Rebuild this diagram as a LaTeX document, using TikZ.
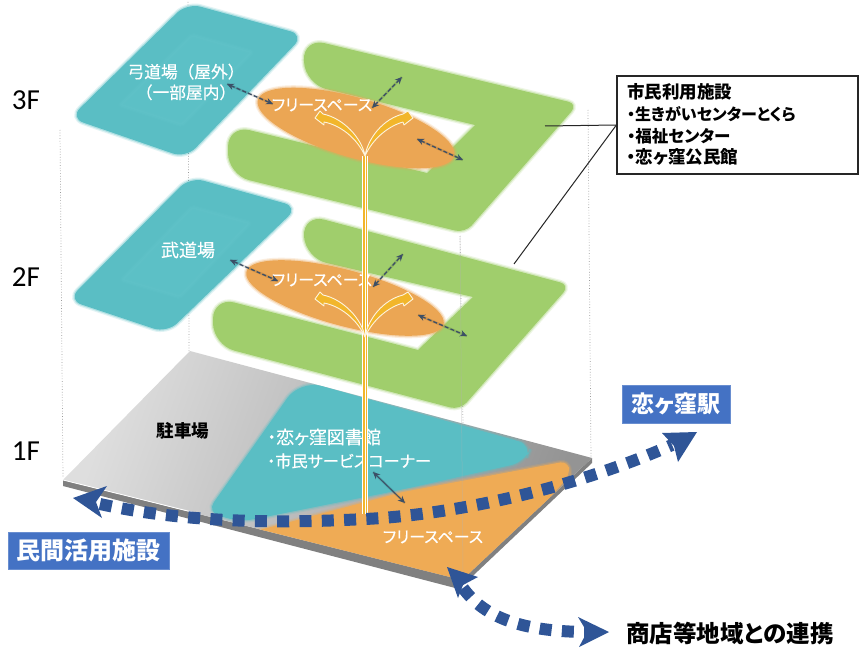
\documentclass[tikz,border=0pt]{standalone}
\usepackage{fontspec}
\usetikzlibrary{arrows.meta}
\newfontfamily\jpf[RawFeature=+palt,FakeBold=0.35]{Noto Sans CJK JP}
\newfontfamily\jpw[FakeBold=0.35]{Noto Sans CJK JP}
\newfontfamily\jpb[RawFeature=+palt]{Noto Sans CJK JP}
\newfontfamily\flf{Carlito}
\definecolor{cteal}{HTML}{5ABEC4}
\definecolor{cteali}{HTML}{62C4CA}
\definecolor{cgreen}{HTML}{A0CE6C}
\definecolor{corange}{HTML}{EBA654}
\definecolor{corangeb}{HTML}{EFAB55}
\definecolor{cblue}{HTML}{2F5597}
\definecolor{cbox}{HTML}{4472C4}
\definecolor{cdash}{HTML}{3C4F66}
\definecolor{cyel}{HTML}{F2B62B}
\tikzset{
  x=1pt,y=-1pt,
  soft/.style={fill=#1,preaction={draw=#1,line width=5pt,opacity=.18},preaction={draw=#1,line width=2.5pt,opacity=.35}},
  guide/.style={draw=black!40,line width=.7pt,dotted},
  faint/.style={draw=black!30,line width=.5pt,opacity=.45},
  dbl/.style={draw=cdash,line width=1.3pt,dash pattern=on 4pt off 2.2pt,{Stealth[length=7pt,width=6.5pt]}-{Stealth[length=7pt,width=6.5pt]},preaction={draw=black,opacity=.12,line width=2.5pt,solid,-}},
  dots/.style={draw=cblue,line width=12pt,dash pattern=on 12pt off 10.3pt,-},
  bighead/.style={fill=cblue,draw=none},
  wlab/.style={text=white,font=\jpf\fontsize{#1}{#1}\selectfont,inner sep=0pt},
  wlabn/.style={text=white,font=\jpw\fontsize{#1}{#1}\selectfont,inner sep=0pt},
  blab/.style={text=black,font=\jpb\bfseries\fontsize{#1}{#1}\selectfont,inner sep=0pt},
  flab/.style={text=black,font=\flf\fontsize{29}{29}\selectfont,inner sep=0pt},
  bluebox/.style={fill=cbox,draw=cbox!80!white,line width=.5pt,text=white,font=\jpb\bfseries\fontsize{#1}{#1}\selectfont,inner sep=0pt,anchor=center},
  leader/.style={draw=black!85,line width=1pt},
  branch/.style={fill=cyel,draw=white!85!cyel,line width=.9pt,line join=round},
}
\newcommand{\tiltell}[6]{\path[soft=#6] plot[domain=0:360,samples=90,smooth cycle] ({#1+#3*cos(\x)*cos(#5)-#4*sin(\x)*sin(#5)},{#2+#3*cos(\x)*sin(#5)+#4*sin(\x)*cos(#5)});}
\newcommand{\brancharrows}[1]{%
 \begin{scope}[shift={(#1)}]
 \path[branch] (0,0) .. controls (-3,-18) and (-22,-38) .. (-42,-42) -- (-45,-45) -- (-50,-38) -- (-41,-31) -- (-41,-34) .. controls (-25,-31) and (-8,-18) .. (0,0) -- cycle;
 \path[branch] (0,0) .. controls (3,-18) and (18,-37) .. (38,-42) -- (43,-45) -- (48,-38) -- (39,-31) -- (38,-34) .. controls (24,-30) and (8,-18) .. (0,0) -- cycle;
 \end{scope}}
\begin{document}
\begin{tikzpicture}
\useasboundingbox (0,0) rectangle (865,650);
\fill[white] (0,0) rectangle (865,650);
% guides
\draw[guide] (60,130) -- (63,478);
\draw[guide] (188,2) -- (189,352);
\draw[guide] (588,110) -- (591,458);
\draw[guide] (460,236) -- (463,424);
% 3F
\path[soft=cgreen] [rounded corners=22pt] (303,38) [rounded corners=10pt] -- (578,104) -- (465,233) [rounded corners=22pt] -- (228,175) -- (228,125) [sharp corners] -- (427,173) -- (475,125) [rounded corners=22pt] -- (305,84) -- cycle;
\path[soft=cteal,rounded corners=14pt] (187,3) -- (304,35) -- (186,158) -- (70,118) -- cycle;
\path[soft=cteali,opacity=.35,rounded corners=2pt] (192,35) -- (252,52) -- (182,125) -- (120,105) -- cycle;
\tiltell{356}{128}{102}{30}{16}{corange}
% 2F
\path[soft=cgreen] [rounded corners=22pt] (303,214) [rounded corners=10pt] -- (570,285) -- (460,410) [rounded corners=22pt] -- (213,345) -- (213,297) [sharp corners] -- (418,350) -- (473,297) [rounded corners=22pt] -- (305,258) -- cycle;
\path[soft=cteal,rounded corners=14pt] (190,177) -- (298,207) -- (167,333) -- (68,300) -- cycle;
\path[soft=cteali,opacity=.35,rounded corners=2pt] (192,207) -- (250,223) -- (180,297) -- (122,280) -- cycle;
\tiltell{345}{298}{102}{28}{15}{corange}
% floor
\fill[black!50] (63,480) -- (462,580) -- (592,458) -- (592,463) -- (459,589) -- (63,486) -- cycle;
\shade[left color=black!13,right color=black!42,shading angle=70] (190,351) -- (592,458) -- (462,580) -- (63,480) -- cycle;
\draw[white,line width=.8pt] (63,480) -- (200,514);
\begin{scope}
\clip (190,351) -- (592,458) -- (462,580) -- (63,480) -- cycle;
\path[soft=cteal] [rounded corners=22pt] (300,380) [rounded corners=14pt] -- (532,445) -- (525,462) -- (400,490) -- (240,522) [rounded corners=12pt] -- (207,512) [rounded corners=22pt] -- cycle;
\path[soft=corangeb] (252,532) -- (403,492) [rounded corners=8pt] -- (568,461) -- (570,475) [sharp corners] -- (480,575) -- (440,590) -- cycle;
\end{scope}
\draw[faint] (460,236) -- (463,575);
% callout
\node[draw=black!85,line width=1.2pt,fill=white,minimum width=241pt,minimum height=98pt,inner sep=0pt] (callout) at (737.5,125) {};
\coordinate (g3) at (545,126);
\coordinate (g2) at (514,264);
\draw[leader] (callout.west) -- (g3);
\draw[leader] (callout.west) -- (g2);
\node[blab=17.5,anchor=west] (c1) at (627,92) {市民利用施設};
\node[blab=16,anchor=west] (c2) at (627,114) {・生きがいセンターとくら};
\node[blab=16.5,anchor=west] (c3) at (627,136) {・福祉センター};
\node[blab=17.5,anchor=west] (c4) at (627,157) {・恋ヶ窪公民館};
% labels
\node[flab] (f3) at (26,100) {3F};
\node[flab] (f2) at (26,277) {2F};
\node[flab] (f1) at (26,451) {1F};
\node[wlabn=16.7,align=center] (kyudo) at (186,82) {弓道場（屋外）\\[4pt]（一部屋内）};
\node[wlab=18] (budo) at (188,250) {武道場};
\node[blab=17.5] (park) at (183,431) {駐車場};
\node[wlab=16] (fs3) at (322,105) {フリースペース};
\node[wlab=16] (fs2) at (322,280) {フリースペース};
\node[wlab=16] (fs1) at (433,537) {フリースペース};
\node[wlab=18,anchor=west] (lib) at (267,437) {・恋ヶ窪図書館};
\node[wlab=16.2,anchor=west] (svc) at (267,461) {・市民サービスコーナー};
% yellow line
\coordinate (j3) at (365,156);
\coordinate (j2) at (365,337);
\coordinate (j0) at (365,514);
\draw[white,line width=5.5pt] (j3) -- (j0);
\draw[cyel,line width=4pt] (j3) -- (j0);
\draw[white,line width=1pt] (j3) -- (j0);
\brancharrows{j3}
\brancharrows{j2}
% dashed arrows
\coordinate (a1) at (227,84); \coordinate (a2) at (273,104);
\coordinate (a3) at (372,108); \coordinate (a4) at (402,77);
\coordinate (a5) at (417,139); \coordinate (a6) at (463,160);
\coordinate (b1) at (230,260); \coordinate (b2) at (278,281);
\coordinate (b3) at (373,287); \coordinate (b4) at (403,254);
\coordinate (b5) at (418,315); \coordinate (b6) at (467,336);
\coordinate (e1) at (373,472); \coordinate (e2) at (405,503);
\draw[dbl] (a1) -- (a2);
\draw[dbl] (a3) -- (a4);
\draw[dbl] (a5) -- (a6);
\draw[dbl] (b1) -- (b2);
\draw[dbl] (b3) -- (b4);
\draw[dbl] (b5) -- (b6);
\draw[dbl,line width=1pt,solid] (e1) -- (e2);
% blue route arrows
\coordinate (m1) at (100,504); \coordinate (m0) at (365,519); \coordinate (m2) at (672,445);
\coordinate (s1) at (463,588); \coordinate (s2) at (590,632);
\draw[dots] (m1) .. controls (190,524) and (290,523) .. (m0) .. controls (450,515) and (570,490) .. (m2);
\draw[dots] (s1) .. controls (482,614) and (515,632) .. (s2);
\path[bighead] (73,498) -- (107,486) -- (96,502) -- (102,518) -- cycle;
\path[bighead] (697,432) -- (662,433) -- (674,446) -- (678,462) -- cycle;
\path[bighead] (447,567) -- (478,577) -- (463,585) -- (458,598) -- cycle;
\path[bighead] (609,632) -- (578,617) -- (587,632) -- (579,647) -- cycle;
% boxes
\node[bluebox=24,minimum width=161pt,minimum height=37pt] (priv) at (88.5,550.5) {民間活用施設};
\node[bluebox=23,minimum width=108pt,minimum height=38pt] (stn) at (676,404) {恋ヶ窪駅};
\node[blab=23.5] (shop) at (730,633) {商店等地域との連携};
\end{tikzpicture}
\end{document}
